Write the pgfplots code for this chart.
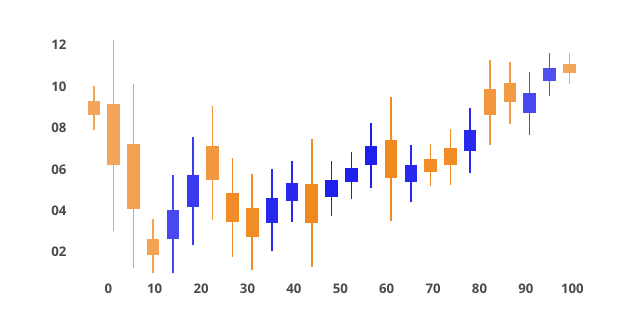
\documentclass[border=0pt]{standalone}
\usepackage{pgfplots}
\pgfplotsset{compat=1.18}
\usepackage{fontspec}
\setmainfont{Open Sans}
\definecolor{lbl}{HTML}{4A4A4A}
\definecolor{oA}{HTML}{F5A55A}
\definecolor{oB}{HTML}{F4A152}
\definecolor{oC}{HTML}{F39640}
\definecolor{oD}{HTML}{F28C26}
\definecolor{oE}{HTML}{F2891F}
\definecolor{oF}{HTML}{F39A45}
\definecolor{bA}{HTML}{4848F0}
\definecolor{bB}{HTML}{3A3AF0}
\definecolor{bC}{HTML}{2828EE}
\definecolor{bD}{HTML}{1F1FEE}
\definecolor{bE}{HTML}{5050F0}
% x, low, high, body bottom, body top, colour
\newcommand{\candle}[6]{%
  \addplot[draw=#6, line width=1.6pt, forget plot] coordinates {(#1,#2) (#1,#3)};
  \addplot[draw=#6, line width=12.5pt, forget plot] coordinates {(#1,#4) (#1,#5)};
}
\begin{document}
\begin{tikzpicture}
\begin{axis}[
  scale only axis,
  width=530pt, height=250pt,
  xmin=-8.254, xmax=105.97,
  ymin=0.661, ymax=12.72,
  axis line style={draw=none},
  tick style={draw=none},
  axis x line*=bottom, axis y line*=left,
  clip=false,
  xtick={0,10,20,30,40,50,60,70,80,90,100},
  xticklabels={0,10,20,30,40,50,60,70,80,90,100},
  ytick={2,4,6,8,10,12},
  yticklabels={02,04,06,08,10,12},
  major tick length=0pt,
  ticklabel style={font=\bfseries\fontsize{13.2}{14}\selectfont, text=lbl},
]
\pgfplotsextra{\path[use as bounding box] (axis cs:-23.34,-1.51) rectangle (axis cs:113.94,14.168);}
\candle{-3.13}{7.90}{10.02}{8.63}{9.29}{oA}
\candle{1.14}{3.02}{12.24}{6.19}{9.15}{oA}
\candle{5.41}{1.23}{10.12}{4.10}{7.22}{oB}
\candle{9.68}{0.98}{3.60}{1.87}{2.65}{oB}
\candle{13.95}{0.98}{5.71}{2.64}{4.05}{bA}
\candle{18.22}{2.35}{7.57}{4.18}{5.74}{bB}
\candle{22.49}{3.54}{9.07}{5.47}{7.14}{oC}
\candle{26.76}{1.77}{6.56}{3.44}{4.86}{oD}
\candle{31.03}{1.14}{5.77}{2.75}{4.15}{oD}
\candle{35.30}{2.05}{6.02}{3.42}{4.63}{bC}
\candle{39.57}{3.44}{6.40}{4.47}{5.35}{bC}
\candle{43.84}{1.29}{7.45}{3.42}{5.29}{oE}
\candle{48.11}{3.76}{6.40}{4.68}{5.47}{bD}
\candle{52.38}{4.58}{6.84}{5.37}{6.06}{bD}
\candle{56.65}{5.08}{8.25}{6.21}{7.14}{bD}
\candle{60.92}{3.52}{9.47}{5.60}{7.40}{oE}
\candle{65.19}{4.41}{7.16}{5.37}{6.19}{bC}
\candle{69.46}{5.18}{7.22}{5.89}{6.50}{oD}
\candle{73.73}{5.26}{7.95}{6.19}{7.01}{oD}
\candle{78.00}{5.81}{8.96}{6.90}{7.88}{bC}
\candle{82.27}{7.19}{11.27}{8.62}{9.86}{oC}
\candle{86.54}{8.19}{11.18}{9.23}{10.15}{oF}
\candle{90.81}{7.66}{10.71}{8.72}{9.67}{bA}
\candle{95.08}{9.52}{11.63}{10.26}{10.89}{bE}
\candle{99.35}{10.12}{11.63}{10.65}{11.10}{oA}
\end{axis}
\end{tikzpicture}
\end{document}
